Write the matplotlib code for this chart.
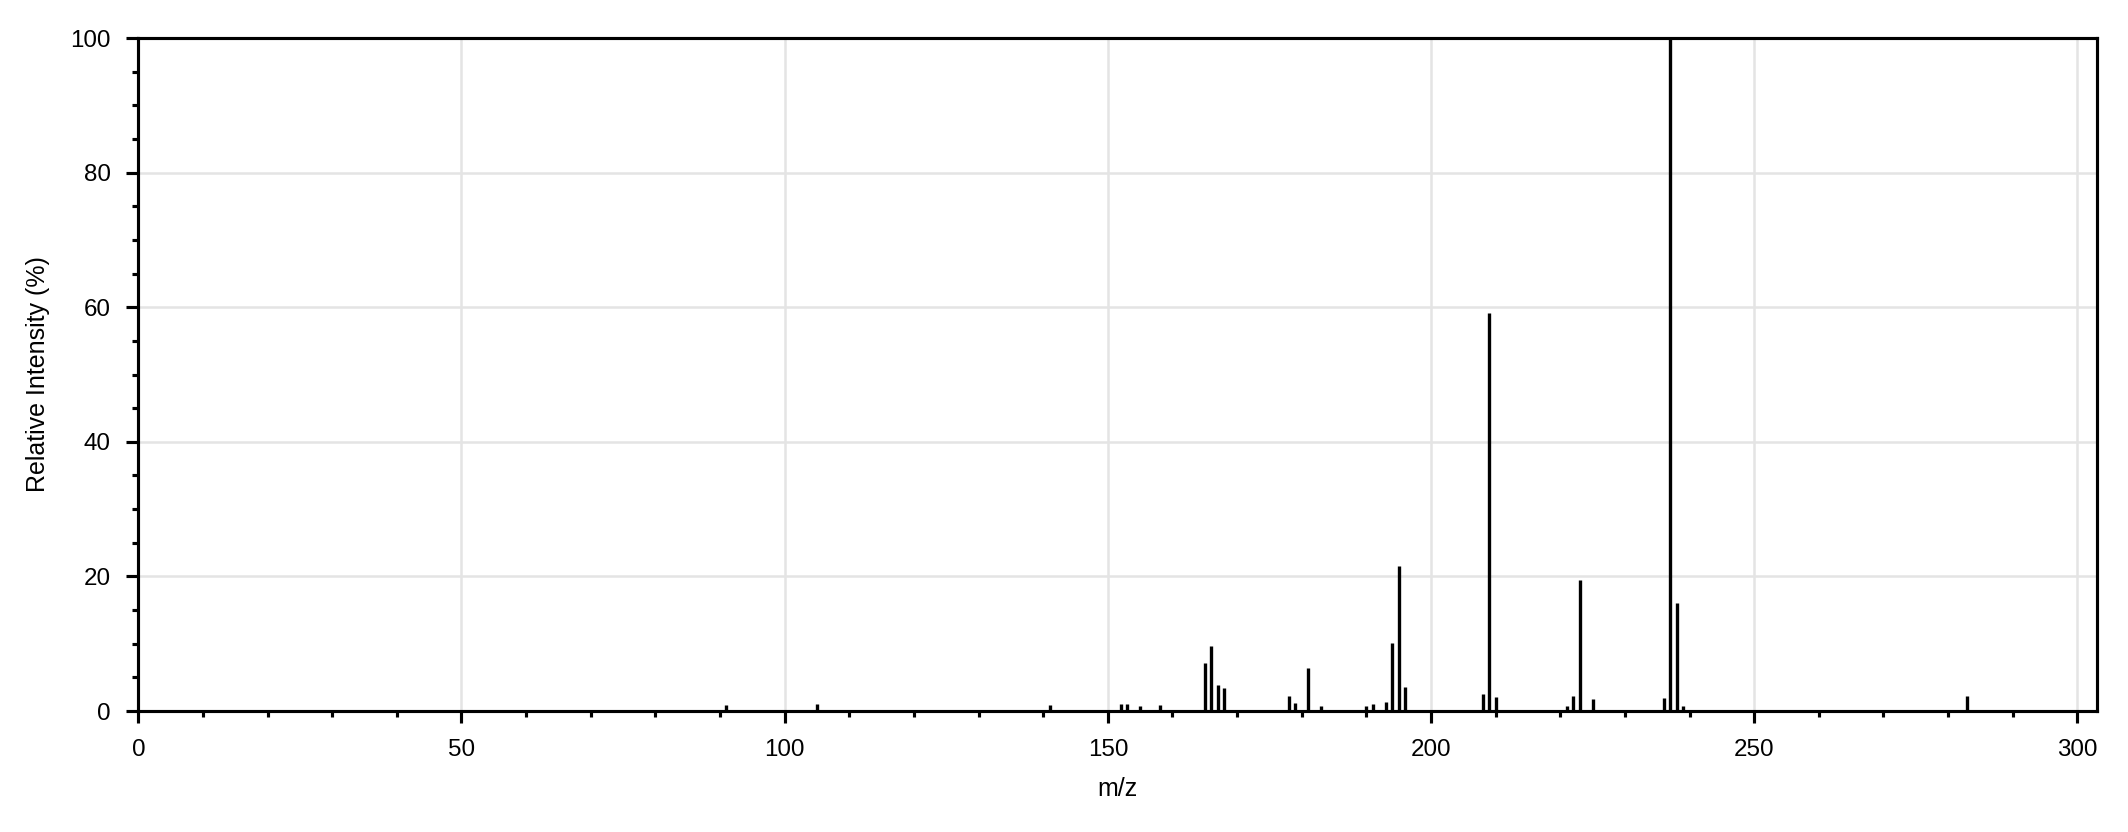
import numpy as np
import matplotlib
matplotlib.use("Agg")
import matplotlib.pyplot as plt
from matplotlib.ticker import MultipleLocator

# mass spectrum peaks
mz = [91, 105, 141, 152, 153, 155, 158,
      165, 166, 167, 168, 178, 179, 181, 183,
      190, 191, 193, 194, 195, 196,
      208, 209, 210, 221, 222, 223, 225,
      236, 237, 238, 239, 283]
intensity = [0.95, 1.1, 0.95, 1.0, 1.1, 0.8, 0.95,
             7.2, 9.7, 3.9, 3.4, 2.2, 1.2, 6.4, 0.8,
             0.8, 1.0, 1.4, 10.1, 21.6, 3.6,
             2.5, 59.1, 2.1, 0.8, 2.2, 19.5, 1.8,
             1.9, 100.0, 16.0, 0.8, 2.3]

plt.rcParams['font.family'] = ['Liberation Sans', 'DejaVu Sans']
plt.rcParams['font.size'] = 6
plt.rcParams['axes.linewidth'] = 0.75

fig = plt.figure(figsize=(2128/300, 832/300), dpi=300)
ax = fig.add_axes([0.065, 0.1454, 0.9203, 0.8089])

ax.vlines(mz, 0, intensity, colors='black', linewidth=0.8, zorder=3)

ax.set_xlim(0, max(mz) + 20)
ax.set_ylim(0, 100)
ax.xaxis.set_major_locator(MultipleLocator(50))
ax.xaxis.set_minor_locator(MultipleLocator(10))
ax.yaxis.set_major_locator(MultipleLocator(20))
ax.yaxis.set_minor_locator(MultipleLocator(5))
ax.tick_params(which='major', length=2.8, width=0.75, direction='out',
               labelsize=5.8, pad=3.8)
ax.tick_params(which='minor', length=1.5, width=0.75, direction='out')
ax.grid(True, which='major', color='#e4e4e4', linewidth=0.6, zorder=0)
ax.set_axisbelow(True)

ax.set_xlabel('m/z', fontsize=6)
ax.set_ylabel('Relative Intensity (%)', fontsize=6, labelpad=5)

fig.savefig('out.png', dpi=300)
